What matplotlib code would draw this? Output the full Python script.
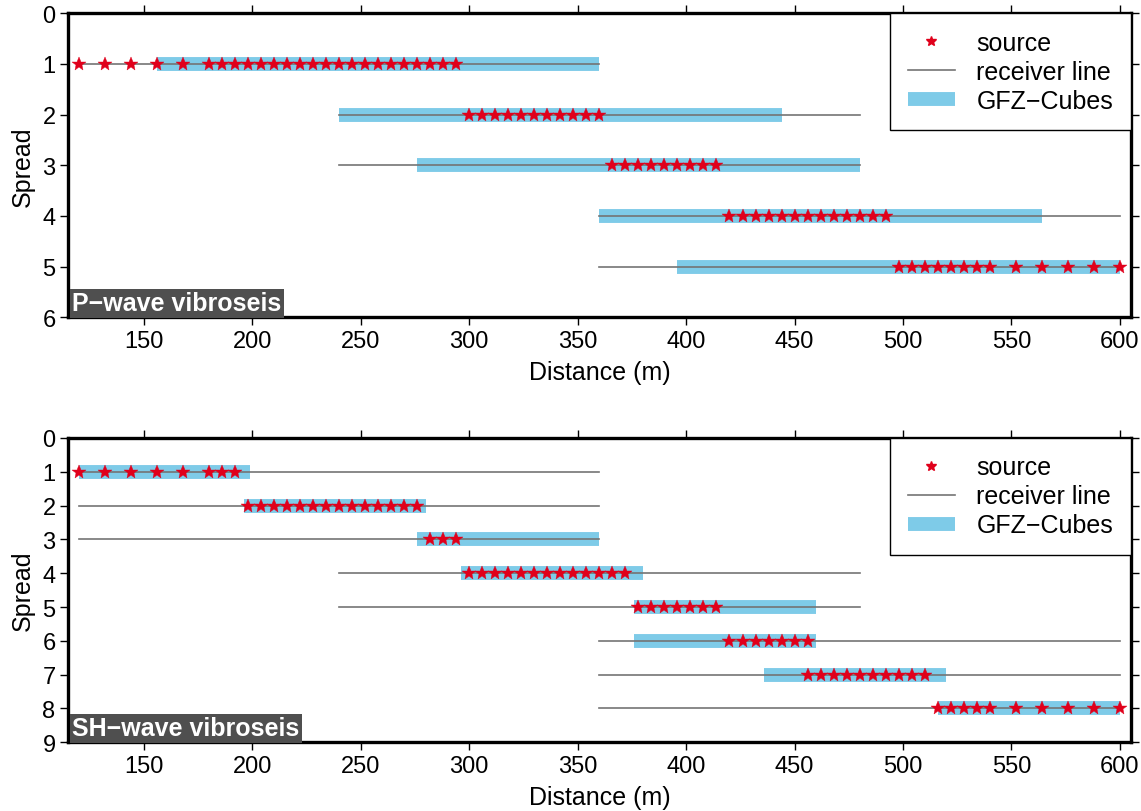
import matplotlib
matplotlib.use('Agg')
import matplotlib.pyplot as plt

plt.rcParams['font.family'] = ['Liberation Sans', 'DejaVu Sans']

# P-wave survey: receiver lines, GFZ-Cube spans, source positions (m)
p_recv = [(120, 360), (240, 480), (240, 480), (360, 600), (360, 600)]
p_cube = [(156, 360), (240, 444), (276, 480), (360, 564), (396, 600)]
p_src = [
    [120, 132, 144, 156, 168, 180, 186, 192, 198, 204, 210, 216, 222, 228,
     234, 240, 246, 252, 258, 264, 270, 276, 282, 288, 294],
    [300, 306, 312, 318, 324, 330, 336, 342, 348, 354, 360],
    [366, 372, 378, 384, 390, 396, 402, 408, 414],
    [420, 426, 432, 438, 444, 450, 456, 462, 468, 474, 480, 486, 492],
    [498, 504, 510, 516, 522, 528, 534, 540, 552, 564, 576, 588, 600],
]

# SH-wave survey
s_recv = [(120, 360), (120, 360), (120, 360), (240, 480), (240, 480),
          (360, 600), (360, 600), (360, 600)]
s_cube = [(120, 199), (196, 280), (276, 360), (296, 380), (376, 460),
          (376, 460), (436, 520), (516, 600)]
s_src = [
    [120, 132, 144, 156, 168, 180, 186, 192],
    [198, 204, 210, 216, 222, 228, 234, 240, 246, 252, 258, 264, 270, 276],
    [282, 288, 294],
    [300, 306, 312, 318, 324, 330, 336, 342, 348, 354, 360, 366, 372],
    [378, 384, 390, 396, 402, 408, 414],
    [420, 426, 432, 438, 444, 450, 456],
    [456, 462, 468, 474, 480, 486, 492, 498, 504, 510],
    [516, 522, 528, 534, 540, 552, 564, 576, 588, 600],
]

star_col = '#e0001b'
line_col = '#747474'
cube_col = '#7ecbe8'


def draw_panel(ax, recv, cube, src, nmax, title):
    for i in range(len(recv)):
        row = i + 1
        ax.plot(cube[i], [row, row], color=cube_col, lw=10, solid_capstyle='butt', zorder=1)
        ax.plot(recv[i], [row, row], color=line_col, lw=1.2, zorder=2)
        ax.plot(src[i], [row] * len(src[i]), ls='none', marker='*', ms=10,
                color=star_col, mec=star_col, mew=0.3, zorder=3)
    # legend proxies
    h1, = ax.plot([], [], ls='none', marker='*', ms=7, color=star_col)
    h2, = ax.plot([], [], color=line_col, lw=1.2)
    h3, = ax.plot([], [], color=cube_col, lw=10, solid_capstyle='butt')
    leg = ax.legend([h1, h2, h3], ['source', 'receiver line', 'GFZ\u2212Cubes'],
                    loc='upper right', borderaxespad=0, fontsize=18, fancybox=False,
                    framealpha=1, edgecolor='black', borderpad=0.7,
                    labelspacing=0.2, handlelength=1.9, handletextpad=0.85,
                    numpoints=1)
    leg.get_frame().set_linewidth(1.0)

    ax.set_xlim(115, 605)
    ax.set_ylim(nmax, 0)
    ax.set_yticks(range(nmax + 1))
    ax.set_xticks(range(150, 601, 50))
    ax.tick_params(direction='out', top=True, right=True, length=6, width=1,
                   labelsize=17, pad=3)
    for s in ax.spines.values():
        s.set_linewidth(2.4)
    ax.set_xlabel('Distance (m)', fontsize=18, labelpad=6)
    ax.set_ylabel('Spread', fontsize=18, labelpad=5)
    ax.text(0.004, 0.006, title, transform=ax.transAxes, ha='left', va='bottom',
            color='white', fontsize=18, fontweight='bold', zorder=5,
            bbox=dict(boxstyle='square,pad=0.1', fc='#4f4f4f', ec='none'))


fig = plt.figure(figsize=(11.41, 8.12), dpi=100)
ax1 = fig.add_axes([0.0596, 0.608, 0.9314, 0.3744])
ax2 = fig.add_axes([0.0596, 0.0846, 0.9314, 0.3748])

draw_panel(ax1, p_recv, p_cube, p_src, 6, 'P\u2212wave vibroseis')
draw_panel(ax2, s_recv, s_cube, s_src, 9, 'SH\u2212wave vibroseis')

fig.savefig('out.png', dpi=100)
